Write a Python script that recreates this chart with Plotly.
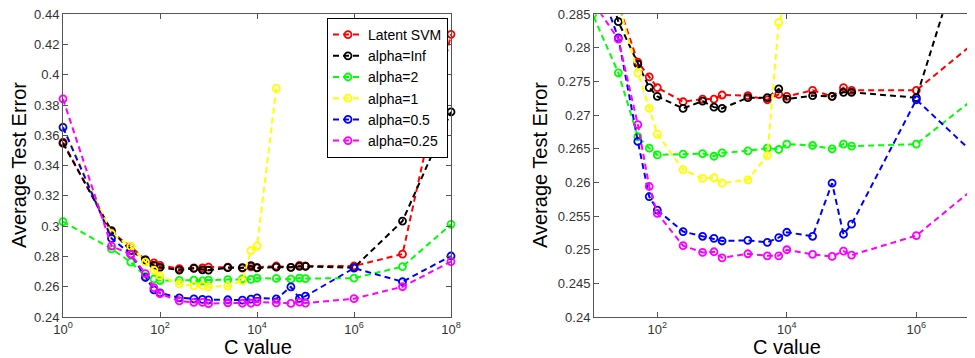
import plotly.graph_objects as go

# The page body keeps an 8px margin, so the figure is drawn 8px smaller and
# positions (measured in window pixels) are shifted by that offset.
OFF = 8
W, H = 975 - OFF, 358 - OFF


def px_x(p):
    return (p - OFF) / W


def px_y(p):
    return 1 - (p - OFF) / H


# ---- data ----
c_values = [1, 10, 25, 50, 75, 100, 250, 500, 750, 1000, 2500, 5000, 7500,
            10000, 25000, 50000, 75000, 100000, 1e6, 1e7, 1e8]

latent_svm = [0.3555, 0.2960, 0.2865, 0.2779, 0.2757, 0.2741, 0.2720, 0.2724, 0.2724, 0.2730,
              0.2729, 0.2723, 0.2731, 0.2728, 0.2737, 0.2728, 0.2741, 0.2737, 0.2737, 0.2816, 0.4268]
alpha_inf = [0.3548, 0.2970, 0.2839, 0.2776, 0.2741, 0.2728, 0.2710, 0.2721, 0.2712, 0.2710,
             0.2726, 0.2726, 0.2739, 0.2724, 0.2729, 0.2728, 0.2734, 0.2734, 0.2726, 0.3034, 0.3755]
alpha_2 = [0.3030, 0.2850, 0.2763, 0.2668, 0.2651, 0.2641, 0.2642, 0.2643, 0.2639, 0.2644,
           0.2647, 0.2651, 0.2649, 0.2657, 0.2655, 0.2650, 0.2657, 0.2654, 0.2657, 0.2733, 0.3012]
alpha_1 = [0.3660, 0.2950, 0.2866, 0.2763, 0.2710, 0.2672, 0.2619, 0.2606, 0.2607, 0.2599,
           0.2604, 0.2640, 0.2838, 0.2869, 0.3911, None, None, None, None, None, None]
alpha_05 = [0.3653, 0.2920, 0.2815, 0.2661, 0.2579, 0.2559, 0.2527, 0.2520, 0.2517, 0.2513,
            0.2514, 0.2511, 0.2518, 0.2526, 0.2520, 0.2599, 0.2523, 0.2538, 0.2723, 0.2633, 0.2803]
alpha_025 = [0.3841, 0.2869, 0.2813, 0.2686, 0.2594, 0.2554, 0.2506, 0.2496, 0.2497, 0.2488,
             0.2494, 0.2491, 0.2491, 0.2500, 0.2493, 0.2490, 0.2498, 0.2492, 0.2521, 0.2600, 0.2766]

series_names = ["Latent SVM", "alpha=Inf", "alpha=2", "alpha=1", "alpha=0.5", "alpha=0.25"]
series_values = [latent_svm, alpha_inf, alpha_2, alpha_1, alpha_05, alpha_025]
series_colors = ["#ff0000", "#000000", "#00ff00", "#ffff00", "#0000ff", "#ff00ff"]

left_yticks = [0.24, 0.26, 0.28, 0.30, 0.32, 0.34, 0.36, 0.38, 0.40, 0.42, 0.44]
left_ylabels = ["0.24", "0.26", "0.28", "0.3", "0.32", "0.34", "0.36", "0.38", "0.4", "0.42", "0.44"]
right_yticks = [0.24, 0.245, 0.25, 0.255, 0.26, 0.265, 0.27, 0.275, 0.28, 0.285]
right_ylabels = ["0.24", "0.245", "0.25", "0.255", "0.26", "0.265", "0.27", "0.275", "0.28", "0.285"]
left_xticks = [1, 1e2, 1e4, 1e6, 1e8]
left_xlabels = ["10<sup>0</sup>", "10<sup>2</sup>", "10<sup>4</sup>", "10<sup>6</sup>", "10<sup>8</sup>"]
right_xticks = [1e2, 1e4, 1e6]
right_xlabels = ["10<sup>2</sup>", "10<sup>4</sup>", "10<sup>6</sup>"]

fig = go.Figure()
for name, vals, col in zip(series_names, series_values, series_colors):
    common = dict(
        x=c_values, y=vals, mode="lines+markers", name=name,
        line=dict(color=col, width=2, dash="6px,4px"),
        marker=dict(symbol="circle-open", size=7, color=col, line=dict(width=1.8, color=col)),
        connectgaps=False,
    )
    fig.add_trace(go.Scatter(**common, xaxis="x", yaxis="y", cliponaxis=False, showlegend=True))
    fig.add_trace(go.Scatter(**common, xaxis="x2", yaxis="y2", cliponaxis=True, showlegend=False))

axcol = "#555555"
tickfont = dict(family="Liberation Sans, Arial, sans-serif", size=13, color="#333333")
ydom = [px_y(317), px_y(14.3)]

axis_common = dict(ticks="inside", ticklen=5, tickcolor=axcol, showline=True, linecolor=axcol,
                   linewidth=1, showgrid=False, zeroline=False, tickfont=tickfont, automargin=False,
                   ticklabeloverflow="allow")

fig.update_layout(
    template="none",
    width=W, height=H,
    margin=dict(l=0, r=0, t=0, b=0, pad=0),
    paper_bgcolor="white", plot_bgcolor="white",
    font=dict(family="Liberation Sans, Arial, sans-serif", color="black"),
    xaxis=dict(type="log", domain=[px_x(63), px_x(451)], range=[0, 8], anchor="y",
               tickvals=left_xticks, ticktext=left_xlabels, mirror="ticks", **axis_common),
    yaxis=dict(domain=ydom, range=[0.24, 0.44], anchor="x",
               tickvals=left_yticks, ticktext=left_ylabels, mirror="ticks", **axis_common),
    xaxis2=dict(type="log", domain=[px_x(594), 1.0], range=[1.022, 6.906], anchor="y2",
                tickvals=right_xticks, ticktext=right_xlabels, mirror="ticks", **axis_common),
    yaxis2=dict(domain=ydom, range=[0.24, 0.285], anchor="x2",
                tickvals=right_yticks, ticktext=right_ylabels, mirror=False, **axis_common),
    legend=dict(x=px_x(448), xanchor="right", y=px_y(18), yanchor="top",
                bgcolor="white", bordercolor="black", borderwidth=1,
                font=dict(size=14, color="black"), tracegroupgap=0, itemwidth=30),
    showlegend=True,
)

title_font = dict(family="Liberation Sans, Arial, sans-serif", size=20, color="black")
fig.add_annotation(text="Average Test Error", x=px_x(19), y=px_y(165), xref="paper", yref="paper",
                   textangle=-90, showarrow=False, font=title_font, xanchor="center", yanchor="middle")
fig.add_annotation(text="Average Test Error", x=px_x(540), y=px_y(165), xref="paper", yref="paper",
                   textangle=-90, showarrow=False, font=title_font, xanchor="center", yanchor="middle")
fig.add_annotation(text="C value", x=px_x(258), y=px_y(347), xref="paper", yref="paper",
                   showarrow=False, font=title_font, xanchor="center", yanchor="middle")
fig.add_annotation(text="C value", x=px_x(787), y=px_y(347), xref="paper", yref="paper",
                   showarrow=False, font=title_font, xanchor="center", yanchor="middle")

fig.write_html("out.html")
